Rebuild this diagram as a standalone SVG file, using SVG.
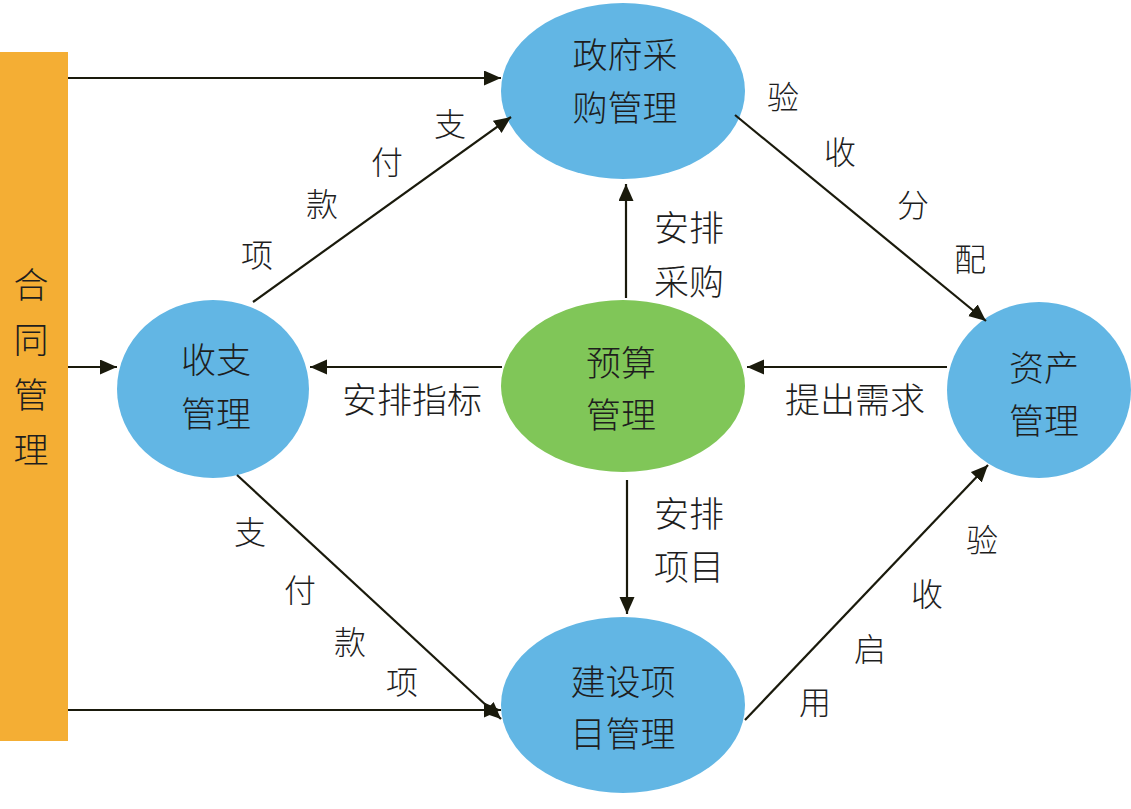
<svg xmlns="http://www.w3.org/2000/svg" width="1131" height="809" viewBox="0 0 1131 809">
<defs>
<style>
.blue{fill:#62B6E4}
.green{fill:#80C658}
.t{font-family:"Noto Sans CJK SC","Noto Sans",sans-serif;font-size:35px;font-weight:300;fill:#1e1e1e;text-anchor:middle;dominant-baseline:central}
.s{font-size:32px}
.c{stroke:#1a1a0c;stroke-width:2.2;fill:none;marker-end:url(#ah)}
</style>
<marker id="ah" markerWidth="18" markerHeight="16" refX="17" refY="7.5" orient="auto" markerUnits="userSpaceOnUse">
<path d="M0,0 L17,7.5 L0,15 z" fill="#1a1a0c"/>
</marker>
</defs>
<rect width="1131" height="809" fill="#ffffff"/>
<g id="contract">
<rect x="0" y="52" width="68" height="689" fill="#F4AE34"/>
<text class="t" x="31" y="282">合</text>
<text class="t" x="31" y="337">同</text>
<text class="t" x="31" y="392">管</text>
<text class="t" x="31" y="447">理</text>
</g>
<g id="procurement">
<ellipse class="blue" cx="623" cy="91" rx="122" ry="88"/>
<text class="t" x="625" y="52">政府采</text>
<text class="t" x="625" y="105">购管理</text>
</g>
<g id="payment">
<ellipse class="blue" cx="213" cy="389" rx="96" ry="89"/>
<text class="t" x="216" y="357">收支</text>
<text class="t" x="216" y="411">管理</text>
</g>
<g id="budget">
<ellipse class="green" cx="623" cy="386" rx="122" ry="86"/>
<text class="t" x="621" y="360">预算</text>
<text class="t" x="621" y="412">管理</text>
</g>
<g id="asset">
<ellipse class="blue" cx="1039" cy="390" rx="92" ry="88"/>
<text class="t" x="1044" y="365">资产</text>
<text class="t" x="1044" y="418">管理</text>
</g>
<g id="construction">
<ellipse class="blue" cx="623" cy="705" rx="122" ry="88"/>
<text class="t" x="623" y="679">建设项</text>
<text class="t" x="623" y="731">目管理</text>
</g>
<g id="connectors">
<line class="c" x1="68" y1="78" x2="501" y2="78"/>
<line class="c" x1="68" y1="367" x2="117" y2="367"/>
<line class="c" x1="68" y1="710" x2="501" y2="710"/>
<line class="c" x1="253" y1="302" x2="511" y2="117"/>
<line class="c" x1="735" y1="115" x2="986" y2="321"/>
<line class="c" x1="237" y1="475" x2="501" y2="719"/>
<line class="c" x1="745" y1="720" x2="988" y2="465"/>
<line class="c" x1="626" y1="298" x2="626" y2="184"/>
<line class="c" x1="627" y1="480" x2="627" y2="614"/>
<line class="c" x1="502" y1="367" x2="310" y2="367"/>
<line class="c" x1="947" y1="367" x2="747" y2="367"/>
</g>
<g id="labels">
<text class="t s" x="450" y="122">支</text>
<text class="t s" x="387" y="160">付</text>
<text class="t s" x="322" y="202">款</text>
<text class="t s" x="257" y="253">项</text>
<text class="t s" x="783" y="95">验</text>
<text class="t s" x="840" y="150">收</text>
<text class="t s" x="913" y="203">分</text>
<text class="t s" x="970" y="257">配</text>
<text class="t s" x="250" y="530">支</text>
<text class="t s" x="300" y="588">付</text>
<text class="t s" x="350" y="640">款</text>
<text class="t s" x="402" y="680">项</text>
<text class="t s" x="982" y="538">验</text>
<text class="t s" x="927" y="592">收</text>
<text class="t s" x="870" y="647">启</text>
<text class="t s" x="815" y="700">用</text>
<text class="t" x="689" y="225">安排</text>
<text class="t" x="689" y="279">采购</text>
<text class="t" x="689" y="511">安排</text>
<text class="t" x="689" y="564">项目</text>
<text class="t" x="412" y="397">安排指标</text>
<text class="t" x="855" y="397">提出需求</text>
</g>
</svg>
